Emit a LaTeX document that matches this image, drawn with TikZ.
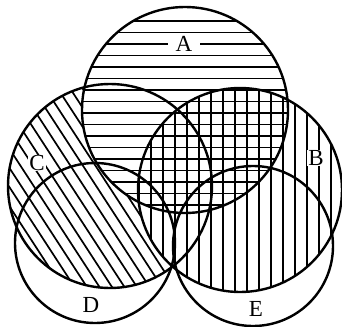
\documentclass[tikz,border=0pt]{standalone}
\usepackage{fontspec}
\setmainfont{Liberation Serif}
\begin{document}
\begin{tikzpicture}[
  x=1pt, y=-1pt,
  ring/.style={draw, line width=2.4pt},
  hatch/.style={line width=1.7pt},
  every node/.style={font=\fontsize{23}{27}\selectfont, inner sep=1pt}
]
  \useasboundingbox (0,0) rectangle (342,326);
  % centres of the five sets
  \coordinate (cA) at (185,110);
  \coordinate (cB) at (240,190);
  \coordinate (cC) at (110,186);
  \coordinate (cD) at (95,243);
  \coordinate (cE) at (253,246);

  % C: slanted lines
  \begin{scope}
    \clip (cC) circle (102);
    \foreach \t in {-250,-237.5,...,240}
      \draw[hatch] (\t,0) -- ++(215,330);
  \end{scope}
  \fill[white] (cA) circle (103) (cB) circle (102);
  % A: horizontal lines
  \begin{scope}
    \clip (cA) circle (103);
    \foreach \y in {21,32.5,...,215}
      \draw[hatch] (78,\y) -- (292,\y);
  \end{scope}
  % B: vertical lines
  \begin{scope}
    \clip (cB) circle (102);
    \foreach \x in {139.3,151.3,...,345}
      \draw[hatch] (\x,85) -- (\x,295);
  \end{scope}

  \draw[ring] (cA) circle (103);
  \draw[ring] (cB) circle (102);
  \draw[ring] (cC) circle (102);
  \draw[ring] (cD) circle (80);
  \draw[ring] (cE) circle (80);

  \node[fill=white, inner xsep=8pt, inner ysep=0pt] (lA) at (184,44) {A};
  \node[fill=white, inner ysep=0pt] (lB) at (316,158) {B};
  \node[fill=white, inner ysep=0pt] (lC) at (37,163) {C};
  \node (lD) at (91,305) {D};
  \node (lE) at (256,309) {E};
\end{tikzpicture}
\end{document}
